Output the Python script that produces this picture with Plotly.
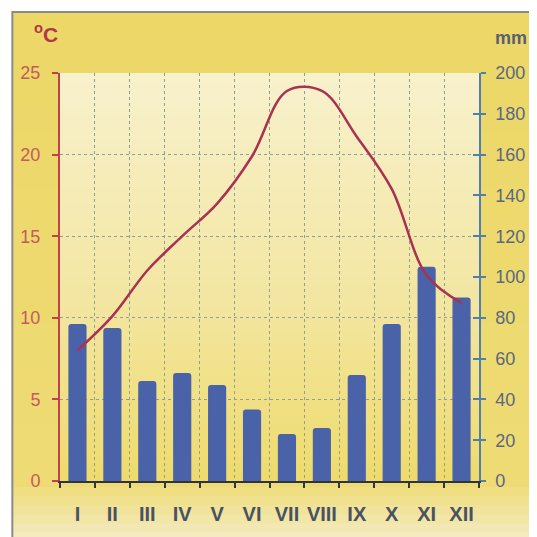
import plotly.graph_objects as go

months = ["I", "II", "III", "IV", "V", "VI", "VII", "VIII", "IX", "X", "XI", "XII"]
precip_mm = [77, 75, 49, 53, 47, 35, 23, 26, 52, 77, 105, 90]
temp_c = [8.0, 10.1, 12.9, 15.0, 17.0, 19.9, 23.9, 23.9, 21.1, 17.9, 12.6, 10.9]

OFF = 8  # page body margin
W, H = 529, 529
ML, MR, MT, MB = 52, 55, 65, 56
PW, PH = W - ML - MR, H - MT - MB


def px_x(p):
    return (p - OFF - ML) / PW


def px_y(p):
    return (H - MB - (p - OFF)) / PH


def hex2rgb(h):
    h = h.lstrip("#")
    return [int(h[i:i + 2], 16) for i in (0, 2, 4)]


def grad(stops, t):
    for (t0, c0), (t1, c1) in zip(stops[:-1], stops[1:]):
        if t0 <= t <= t1:
            f = 0 if t1 == t0 else (t - t0) / (t1 - t0)
            a, b = hex2rgb(c0), hex2rgb(c1)
            r = [round(a[i] + (b[i] - a[i]) * f) for i in range(3)]
            return "rgb(%d,%d,%d)" % tuple(r)
    return stops[-1][1] if t > stops[-1][0] else stops[0][1]


shapes = []
fx0, fx1 = px_x(12), px_x(560)
fy_top, fy_bot = px_y(12), px_y(560)
outer_stops = [(fy_bot, "#f6eec8"), (px_y(537), "#f4ebc0"), (0.0, "#eedb74"), (fy_top, "#ecd767")]
N = 60
for i in range(N):
    y0 = fy_bot + (fy_top - fy_bot) * i / N
    y1 = fy_bot + (fy_top - fy_bot) * (i + 1) / N
    shapes.append(dict(type="rect", xref="paper", yref="paper", x0=fx0, x1=fx1,
                       y0=y0, y1=y1 + 0.002, fillcolor=grad(outer_stops, (y0 + y1) / 2),
                       line=dict(width=0), layer="below"))
shapes.append(dict(type="rect", xref="paper", yref="paper", x0=fx0, x1=fx1, y0=fy_bot, y1=fy_top,
                   fillcolor="rgba(0,0,0,0)", line=dict(color="#8a8a8a", width=2), layer="below"))
inner_stops = [(0.0, "#efdb6c"), (0.45, "#f3e6a2"), (1.0, "#f8f1cd")]
M = 50
for i in range(M):
    y0 = i / M
    y1 = (i + 1) / M
    shapes.append(dict(type="rect", xref="paper", yref="paper", x0=0, x1=1,
                       y0=y0, y1=min(1, y1 + 0.002), fillcolor=grad(inner_stops, (y0 + y1) / 2),
                       line=dict(width=0), layer="below"))

fig = go.Figure()
fig.add_trace(go.Bar(x=months, y=precip_mm, yaxis="y", width=0.52,
                     marker=dict(color="#4a62a8", line=dict(width=0), cornerradius=3),
                     hoverinfo="skip", showlegend=False))
fig.add_trace(go.Scatter(x=months, y=temp_c, yaxis="y2", mode="lines",
                         line=dict(color="#a93250", width=2.5, shape="spline", smoothing=1.0),
                         hoverinfo="skip", showlegend=False))
fig.add_trace(go.Scatter(x=[months[0]], y=[None], yaxis="y3", mode="lines",
                         hoverinfo="skip", showlegend=False))

font_family = "Liberation Sans, Arial, sans-serif"

fig.update_layout(
    width=W, height=H,
    margin=dict(l=ML, r=MR, t=MT, b=MB, pad=0),
    paper_bgcolor="white",
    plot_bgcolor="rgba(0,0,0,0)",
    shapes=shapes,
    xaxis=dict(type="category", categoryorder="array", categoryarray=months,
               tickson="boundaries", ticks="outside", ticklen=5, tickwidth=1.5,
               tickcolor="#333344", showline=True, linecolor="#2e3340", linewidth=2,
               showgrid=True, gridcolor="#8fa08e", griddash="dot", gridwidth=1,
               tickangle=0,
               tickfont=dict(family=font_family, size=20, color="#4a5262", weight="bold"),
               ticklabelstandoff=14, fixedrange=True),
    yaxis=dict(side="right", range=[0, 200], dtick=20, showgrid=False, zeroline=False,
               ticks="outside", ticklen=5, tickwidth=1.5, tickcolor="#4f7fae",
               showline=True, linecolor="#4f7fae", linewidth=1.5,
               tickfont=dict(family=font_family, size=18, color="#5a6880"),
               ticklabelstandoff=6, fixedrange=True),
    yaxis2=dict(side="left", overlaying="y", range=[0, 25], dtick=5, zeroline=False,
                showgrid=True, gridcolor="#8f9ca0", griddash="dot", gridwidth=1,
                ticks="outside", ticklen=6, tickwidth=1.5, tickcolor="#c04050",
                showline=True, linecolor="#c04050", linewidth=2,
                tickfont=dict(family=font_family, size=18, color="#c65a5c"),
                ticklabelstandoff=8, fixedrange=True),
    yaxis3=dict(side="right", overlaying="y", range=[0, 200], dtick=20, showgrid=False,
                zeroline=False, ticks="inside", ticklen=6, tickwidth=1.5, tickcolor="#4f7fae",
                showticklabels=False, showline=False, fixedrange=True),
    annotations=[
        dict(xref="paper", yref="paper", x=px_x(32), y=px_y(33), xanchor="left", yanchor="middle",
             showarrow=False, text="<sup>o</sup>C",
             font=dict(family=font_family, size=21, color="#b03848", weight="bold")),
        dict(xref="paper", yref="paper", x=px_x(532), y=px_y(38), xanchor="right", yanchor="middle",
             showarrow=False, text="mm",
             font=dict(family=font_family, size=18, color="#5a6070", weight="bold")),
    ],
)

fig.write_html("out.html", config={"displayModeBar": False})
